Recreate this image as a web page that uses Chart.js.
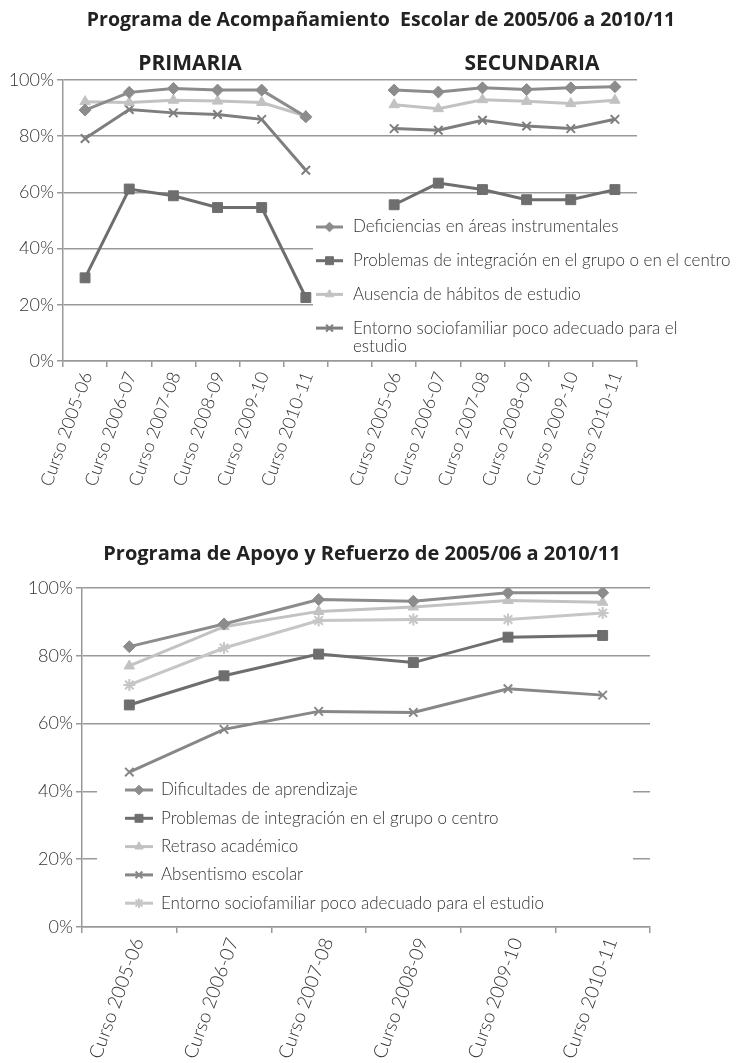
<!DOCTYPE html>
<html>
<head>
<meta charset="utf-8">
<script src="https://cdn.jsdelivr.net/npm/chart.js@4.4.0/dist/chart.umd.min.js"></script>
<style>
body{margin:0;background:#fff;}
#wrap{position:relative;width:739px;height:1063px;}
#chart1{position:absolute;left:0;top:0;}
#chart2{position:absolute;left:0;top:540px;}
</style>
</head>
<body>
<div id="wrap">
<canvas id="chart1" width="739" height="500"></canvas>
<canvas id="chart2" width="739" height="523"></canvas>
</div>
<script>
// datos
var cursos = ["Curso 2005-06", "Curso 2006-07", "Curso 2007-08", "Curso 2008-09", "Curso 2009-10", "Curso 2010-11"];
var yTicks = [0, 20, 40, 60, 80, 100];

// Acompañamiento - primaria
var primDeficiencias = [89.3, 95.6, 97, 96.4, 96.4, 86.9];
var primProblemas = [29.6, 61.2, 58.8, 54.6, 54.6, 22.6];
var primAusencia = [92.3, 92, 92.8, 92.5, 92, 87.2];
var primEntorno = [79.2, 89.5, 88.3, 87.7, 86, 67.9];
// Acompañamiento - secundaria
var secDeficiencias = [96.4, 95.7, 97.2, 96.6, 97.2, 97.6];
var secProblemas = [55.6, 63.3, 61, 57.4, 57.4, 61];
var secAusencia = [91.2, 89.8, 93, 92.4, 91.6, 92.8];
var secEntorno = [82.7, 82.1, 85.7, 83.6, 82.7, 86];

// Apoyo y Refuerzo
var dificultades = [82.7, 89.4, 96.6, 96.1, 98.6, 98.6];
var problemasApoyo = [65.5, 74.1, 80.5, 78, 85.5, 86];
var retraso = [77, 88.6, 93.1, 94.4, 96.3, 95.8];
var absentismo = [45.7, 58.3, 63.6, 63.3, 70.3, 68.4];
var entornoApoyo = [71.4, 82.3, 90.4, 90.7, 90.7, 92.6];

var fuente = "Lato";
var fuenteTitulo = "'Open Sans'";
var gris = "#999999";

function partir(ctx, texto, maxW){
    var palabras = texto.split(" ");
    var lineas = [];
    var actual = "";
    palabras.forEach(function(p){
        var prueba = actual ? actual + " " + p : p;
        if (ctx.measureText(prueba).width > maxW && actual) {
            lineas.push(actual);
            actual = p;
        } else {
            actual = prueba;
        }
    });
    lineas.push(actual);
    return lineas;
}

var legendaDentro = {
    id: "legendaDentro",
    beforeDatasetsDraw: function(chart, args, opts){
        var ctx = chart.ctx;
        ctx.save();
        ctx.fillStyle = "#fff";
        ctx.fillRect(opts.box[0], opts.box[1], opts.box[2], opts.box[3]);
        ctx.font = opts.font;
        ctx.textBaseline = "middle";
        var y = opts.y0;
        chart.data.datasets.forEach(function(ds){
            ctx.strokeStyle = ds.borderColor;
            ctx.lineWidth = 3;
            ctx.beginPath();
            ctx.moveTo(opts.lineX0, y);
            ctx.lineTo(opts.lineX1, y);
            ctx.stroke();
            ctx.fillStyle = ds.pointBackgroundColor;
            ctx.strokeStyle = ds.pointBorderColor;
            ctx.lineWidth = ds.pointBorderWidth;
            Chart.helpers.drawPoint(ctx, {pointStyle: ds.pointStyle, radius: ds.pointRadius * 0.8, borderWidth: ds.pointBorderWidth, rotation: 0}, (opts.lineX0 + opts.lineX1) / 2, y);
            ctx.fillStyle = "#333";
            var lineas = partir(ctx, ds.label, opts.maxW);
            lineas.forEach(function(l, i){
                ctx.fillText(l, opts.textX, y + i * opts.lineH);
            });
            y += opts.step + (lineas.length - 1) * opts.lineH;
        });
        ctx.restore();
    }
};

var titulos = {
    id: "titulos",
    afterDraw: function(chart, args, opts){
        var ctx = chart.ctx;
        ctx.save();
        ctx.fillStyle = "#222";
        ctx.textAlign = "center";
        ctx.textBaseline = "middle";
        opts.textos.forEach(function(t){
            ctx.font = t.font;
            ctx.fillText(t.t, t.x, t.y);
        });
        ctx.restore();
    }
};

function serie(label, data, color, estilo, radio, borde){
    return {
        label: label,
        data: data,
        borderColor: color,
        backgroundColor: color,
        borderWidth: 3,
        pointStyle: estilo,
        pointRadius: radio,
        pointBackgroundColor: color,
        pointBorderColor: color,
        pointBorderWidth: borde,
        tension: 0,
        spanGaps: false
    };
}

function escalas(anchoY, altoX, fontX, despl){
    return {
        x: {
            offset: true,
            grid: {display: true, drawOnChartArea: false, drawTicks: true, tickLength: 6, color: gris, lineWidth: 1.5, offset: true},
            border: {display: true, color: gris, width: 1.5},
            ticks: {autoSkip: false, minRotation: 70, maxRotation: 70, labelOffset: despl, color: "#333", font: {family: fuente, size: fontX, weight: "300"}, padding: 2},
            afterFit: function(s){ s.height = altoX; }
        },
        y: {
            min: 0, max: 100,
            afterBuildTicks: function(s){ s.ticks = yTicks.map(function(v){ return {value: v}; }); },
            grid: {color: gris, lineWidth: 1.5, tickLength: 6},
            border: {display: true, color: gris, width: 1.5},
            ticks: {color: "#333", font: {family: fuente, size: 18, weight: "300"}, padding: 3,
                callback: function(v){ return v + "%"; }},
            afterFit: function(s){ s.width = anchoY; }
        }
    };
}

function graficoAcompanamiento(){
    var etiquetas = cursos.concat([""]).concat(cursos);
    function junta(a, b){ return a.concat([null]).concat(b); }
    new Chart("chart1", {
        type: "line",
        data: {
            labels: etiquetas,
            datasets: [
                serie("Deficiencias en áreas instrumentales", junta(primDeficiencias, secDeficiencias), "#8c8c8c", "rectRot", 6, 1),
                serie("Problemas de integración en el grupo o en el centro", junta(primProblemas, secProblemas), "#6e6e6e", "rect", 7, 1),
                serie("Ausencia de hábitos de estudio", junta(primAusencia, secAusencia), "#c2c2c2", "triangle", 6, 1),
                serie("Entorno sociofamiliar poco adecuado para el estudio", junta(primEntorno, secEntorno), "#7e7e7e", "crossRot", 6, 2)
            ]
        },
        options: {
            responsive: false,
            animation: false,
            layout: {padding: {top: 80, left: 0, right: 102, bottom: 0}},
            scales: escalas(63, 139, 18, 2),
            plugins: {
                legend: {display: false},
                tooltip: {enabled: false},
                legendaDentro: {box: [313, 210, 426, 143], font: "300 17px " + fuente, y0: 227, step: 33.7, lineH: 18,
                    lineX0: 316, lineX1: 343, textX: 353, maxW: 380},
                titulos: {textos: [
                    {t: "Programa de Acompañamiento  Escolar de 2005/06 a 2010/11", x: 381, y: 20, font: "bold 19.5px " + fuenteTitulo},
                    {t: "PRIMARIA", x: 190, y: 64, font: "bold 21px " + fuenteTitulo},
                    {t: "SECUNDARIA", x: 532, y: 64, font: "bold 21px " + fuenteTitulo}
                ]}
            }
        },
        plugins: [legendaDentro, titulos]
    });
}

function graficoApoyo(){
    new Chart("chart2", {
        type: "line",
        data: {
            labels: cursos,
            datasets: [
                serie("Dificultades de aprendizaje", dificultades, "#8c8c8c", "rectRot", 6, 1),
                serie("Problemas de integración en el grupo o centro", problemasApoyo, "#6e6e6e", "rect", 7, 1),
                serie("Retraso académico", retraso, "#c2c2c2", "triangle", 6, 1),
                serie("Absentismo escolar", absentismo, "#878787", "crossRot", 6, 2),
                serie("Entorno sociofamiliar poco adecuado para el estudio", entornoApoyo, "#c6c6c6", "star", 6, 2)
            ]
        },
        options: {
            responsive: false,
            animation: false,
            layout: {padding: {top: 48, left: 0, right: 89, bottom: 0}},
            scales: escalas(82, 136, 19, 9),
            plugins: {
                legend: {display: false},
                tooltip: {enabled: false},
                legendaDentro: {box: [97, 237, 536, 139], font: "300 17px " + fuente, y0: 250, step: 28.3, lineH: 18,
                    lineX0: 125, lineX1: 153, textX: 161, maxW: 470},
                titulos: {textos: [
                    {t: "Programa de Apoyo y Refuerzo de 2005/06 a 2010/11", x: 362, y: 14, font: "bold 20px " + fuenteTitulo}
                ]}
            }
        },
        plugins: [legendaDentro, titulos]
    });
}

graficoAcompanamiento();
graficoApoyo();
</script>
</body>
</html>
